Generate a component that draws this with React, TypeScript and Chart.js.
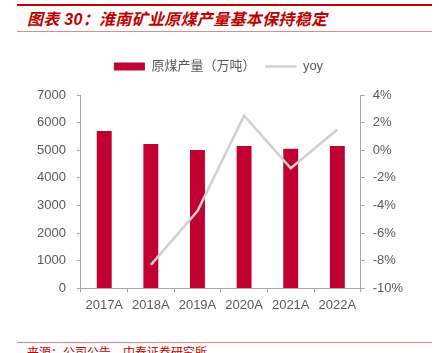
import React, { useEffect, useRef } from "react";
import { Chart, registerables } from "chart.js";

Chart.register(...registerables);

const categories = ["2017A", "2018A", "2019A", "2020A", "2021A", "2022A"];
const output = [5700, 5230, 5005, 5150, 5055, 5150];
const yoy = [null, -8.3, -4.4, 2.5, -1.3, 1.5];
const leftTicks = [0, 1000, 2000, 3000, 4000, 5000, 6000, 7000];
const rightTicks = [-10, -8, -6, -4, -2, 0, 2, 4];

const TITLE = "图表 30：淮南矿业原煤产量基本保持稳定";
const SOURCE = "来源：公司公告、中泰证券研究所";
const RED = "#C00000";
const BAR = "#C00030";
const LINE = "#D0D0D0";
const AXIS = "#A6A6A6";
const TEXT = "#595959";
const FONT = "'Liberation Sans', Arial, 'Noto Sans CJK SC', sans-serif";

const legendMargin = {
  id: "legendMargin",
  beforeInit(chart: any) {
    const fit = chart.legend.fit;
    chart.legend.fit = function () {
      fit.bind(chart.legend)();
      this.height += 12;
    };
  },
};

export default function App() {
  const ref = useRef<HTMLCanvasElement | null>(null);

  useEffect(() => {
    document.body.style.margin = "0";
    const ctx = ref.current!;
    const chart = new Chart(ctx, {
      type: "bar",
      plugins: [legendMargin],
      data: {
        labels: categories,
        datasets: [
          {
            type: "bar",
            label: "原煤产量（万吨）",
            data: output,
            backgroundColor: BAR,
            borderWidth: 0,
            barPercentage: 0.32,
            categoryPercentage: 1,
            yAxisID: "y",
            order: 1,
            pointStyle: "rect",
          } as any,
          {
            type: "line",
            label: "yoy",
            data: yoy,
            borderColor: LINE,
            backgroundColor: LINE,
            borderWidth: 2.5,
            pointRadius: 0,
            tension: 0,
            yAxisID: "y1",
            order: 0,
            pointStyle: "line",
          } as any,
        ],
      },
      options: {
        animation: false,
        responsive: false,
        maintainAspectRatio: false,
        layout: { padding: { left: 26, right: 28, top: 0, bottom: 0 } },
        plugins: {
          tooltip: { enabled: false },
          legend: {
            display: true,
            position: "top",
            labels: {
              usePointStyle: true,
              pointStyleWidth: 31,
              boxHeight: 8,
              color: TEXT,
              font: { size: 13, family: FONT },
              padding: 10,
              sort: (a: any, b: any) => a.datasetIndex - b.datasetIndex,
            },
          },
        },
        scales: {
          x: {
            grid: { display: true, drawOnChartArea: false, drawTicks: true, tickLength: 4, color: AXIS, offset: true },
            border: { display: true, color: AXIS, width: 1 },
            ticks: { color: TEXT, font: { size: 13, family: FONT }, padding: 5, maxRotation: 0 },
          },
          y: {
            position: "left",
            min: 0,
            max: 7000,
            afterBuildTicks: (s: any) => { s.ticks = leftTicks.map((v) => ({ value: v })); },
            grid: { display: true, drawOnChartArea: false, drawTicks: true, tickLength: 4, color: AXIS },
            border: { display: true, color: AXIS, width: 1 },
            ticks: { color: TEXT, font: { size: 13, family: FONT }, padding: 11, callback: (v: any) => String(v) },
          },
          y1: {
            position: "right",
            min: -10,
            max: 4,
            afterBuildTicks: (s: any) => { s.ticks = rightTicks.map((v) => ({ value: v })); },
            grid: { display: true, drawOnChartArea: false, drawTicks: true, tickLength: 4, color: AXIS },
            border: { display: true, color: AXIS, width: 1 },
            ticks: { color: TEXT, font: { size: 13, family: FONT }, padding: 8, callback: (v: any) => `${v}%` },
          },
        },
      },
    });
    return () => chart.destroy();
  }, []);

  return (
    <div style={{ position: "relative", width: 439, height: 353, background: "#fff", overflow: "hidden" }}>
      <div style={{ position: "absolute", left: 17, top: 4, width: 415, height: 2, background: RED }} />
      <div
        style={{
          position: "absolute",
          left: 27,
          top: 9,
          fontFamily: "'Liberation Sans', Arial, 'Noto Sans CJK SC', sans-serif",
          fontWeight: "bold",
          fontStyle: "italic",
          fontSize: 16,
          letterSpacing: 0.3,
          color: RED,
          whiteSpace: "nowrap",
          lineHeight: "22px",
        }}
      >
        {TITLE}
      </div>
      <div style={{ position: "absolute", left: 17, top: 31, width: 415, height: 1, background: "#E08A8A" }} />
      <canvas ref={ref} width={439} height={268} style={{ position: "absolute", left: 0, top: 50, width: 439, height: 268 }} />
      <div style={{ position: "absolute", left: 17, top: 342, width: 415, height: 1, background: "#E88080" }} />
      <div
        style={{
          position: "absolute",
          left: 27,
          top: 345,
          fontFamily: "'Noto Sans CJK SC', sans-serif",
          fontSize: 12,
          color: RED,
          whiteSpace: "nowrap",
          lineHeight: "14px",
        }}
      >
        {SOURCE}
      </div>
    </div>
  );
}
